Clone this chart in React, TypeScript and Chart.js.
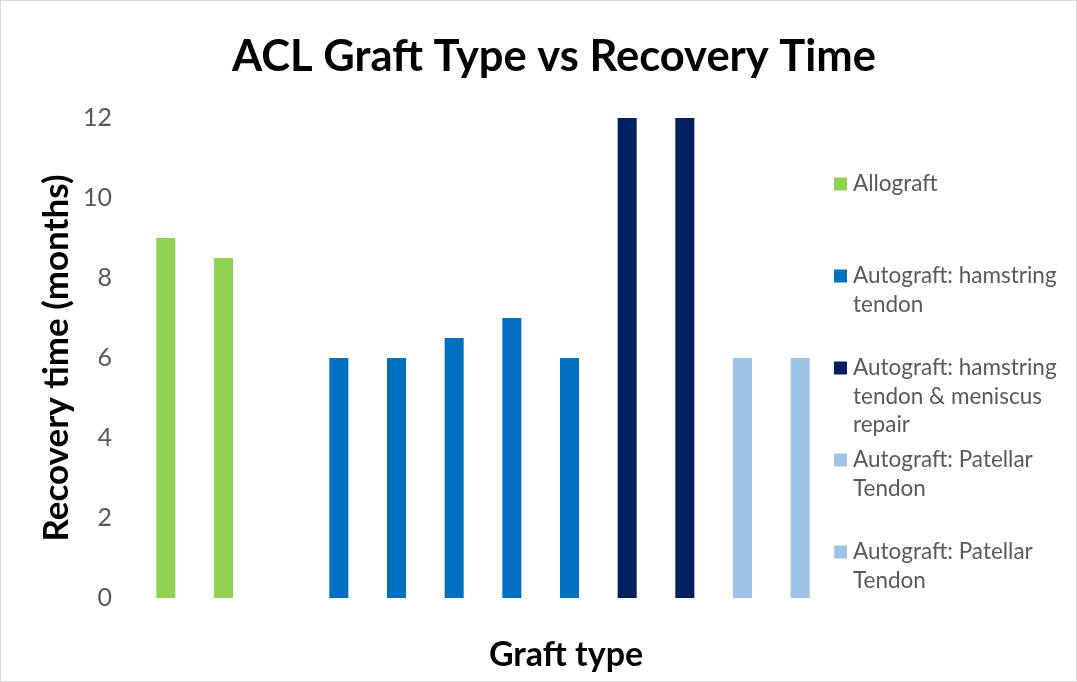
import React, { useEffect, useRef } from "react";
import { Chart, registerables } from "chart.js";

Chart.register(...registerables);

const TITLE = "ACL Graft Type vs Recovery Time";
const X_TITLE = "Graft type";
const Y_TITLE = "Recovery time (months)";

const categories = ["", "", "", "", "", "", "", "", "", "", "", ""];

const allograft = [9, 8.5, null, null, null, null, null, null, null, null, null, null];
const hamstring = [null, null, null, 6, 6, 6.5, 7, 6, null, null, null, null];
const hamstringMeniscus = [null, null, null, null, null, null, null, null, 12, 12, null, null];
const patellarA = [null, null, null, null, null, null, null, null, null, null, 6, null];
const patellarB = [null, null, null, null, null, null, null, null, null, null, null, 6];

const seriesLabels = [
  "Allograft",
  "Autograft: hamstring tendon",
  "Autograft: hamstring tendon & meniscus repair",
  "Autograft: Patellar Tendon",
  "Autograft: Patellar Tendon",
];
const seriesColors = ["#92D050", "#0070C0", "#002060", "#9DC3E6", "#9DC3E6"];
const seriesData = [allograft, hamstring, hamstringMeniscus, patellarA, patellarB];

const yTicks = [0, 2, 4, 6, 8, 10, 12];

const FONT = "Lato";
const TEXT_GRAY = "#595959";

function wrap(ctx: CanvasRenderingContext2D, text: string, maxW: number): string[] {
  const words = text.split(" ");
  const lines: string[] = [];
  let cur = "";
  for (const w of words) {
    const t = cur ? cur + " " + w : w;
    if (ctx.measureText(t).width > maxW && cur) {
      lines.push(cur);
      cur = w;
    } else cur = t;
  }
  if (cur) lines.push(cur);
  return lines;
}

const overlayPlugin = {
  id: "overlay",
  beforeDraw(chart: any) {
    const { ctx, width, height } = chart;
    ctx.save();
    ctx.fillStyle = "#ffffff";
    ctx.fillRect(0, 0, width, height);
    ctx.strokeStyle = "#d9d9d9";
    ctx.lineWidth = 1;
    ctx.strokeRect(0.5, 0.5, width - 1, height - 1);
    ctx.restore();
  },
  afterDraw(chart: any) {
    const { ctx, chartArea } = chart;
    ctx.save();
    ctx.fillStyle = "#000000";
    ctx.textAlign = "center";
    ctx.textBaseline = "alphabetic";
    ctx.font = `bold 43.5px ${FONT}`;
    ctx.fillText(TITLE, 554, 71);
    ctx.font = `bold 34px ${FONT}`;
    ctx.fillText(X_TITLE, 566, 666);

    // legend
    ctx.font = `22.5px ${FONT}`;
    ctx.textAlign = "left";
    ctx.textBaseline = "middle";
    const sqX = chartArea.right + 5;
    const txtX = chartArea.right + 24;
    const startY = 184;
    const step = 92;
    const lineH = 28.5;
    chart.data.datasets.forEach((ds: any, i: number) => {
      const y0 = startY + i * step;
      ctx.fillStyle = ds.backgroundColor;
      ctx.fillRect(sqX, y0 - 6.5, 13, 13);
      ctx.fillStyle = TEXT_GRAY;
      const lines = wrap(ctx, ds.label, 215);
      lines.forEach((ln, j) => ctx.fillText(ln, txtX, y0 + j * lineH));
    });
    ctx.restore();
  },
};

export default function App() {
  const ref = useRef<HTMLCanvasElement | null>(null);
  useEffect(() => {
    document.body.style.margin = "0";
    if (!ref.current) return;
    const chart = new Chart(ref.current, {
      type: "bar",
      data: {
        labels: categories,
        datasets: seriesData.map((d, i) => ({
          label: seriesLabels[i],
          data: d,
          backgroundColor: seriesColors[i],
          borderWidth: 0,
          barPercentage: 0.33,
          categoryPercentage: 1,
        })),
      },
      options: {
        responsive: false,
        animation: false,
        layout: { padding: { top: 118, right: 248, left: 0, bottom: 0 } },
        plugins: {
          legend: { display: false },
          title: { display: false },
          tooltip: { enabled: false },
        },
        scales: {
          x: {
            stacked: true,
            grid: { display: false },
            border: { display: false },
            ticks: { display: false },
            afterFit: (s: any) => {
              s.height = 84;
            },
          },
          y: {
            stacked: false,
            min: 0,
            max: 12,
            afterBuildTicks: (s: any) => {
              s.ticks = yTicks.map((v) => ({ value: v }));
            },
            grid: { display: false },
            border: { display: false },
            ticks: {
              color: TEXT_GRAY,
              font: { family: FONT, size: 25 },
              padding: 17,
            },
            title: {
              display: true,
              text: Y_TITLE,
              color: "#000000",
              font: { family: FONT, size: 35, weight: "bold" },
              padding: { top: 36, bottom: 0 },
            },
            afterFit: (s: any) => {
              s.width = 137;
            },
          },
        },
      },
      plugins: [overlayPlugin],
    });
    return () => chart.destroy();
  }, []);
  return <canvas ref={ref} width={1077} height={682} style={{ display: "block" }} />;
}
